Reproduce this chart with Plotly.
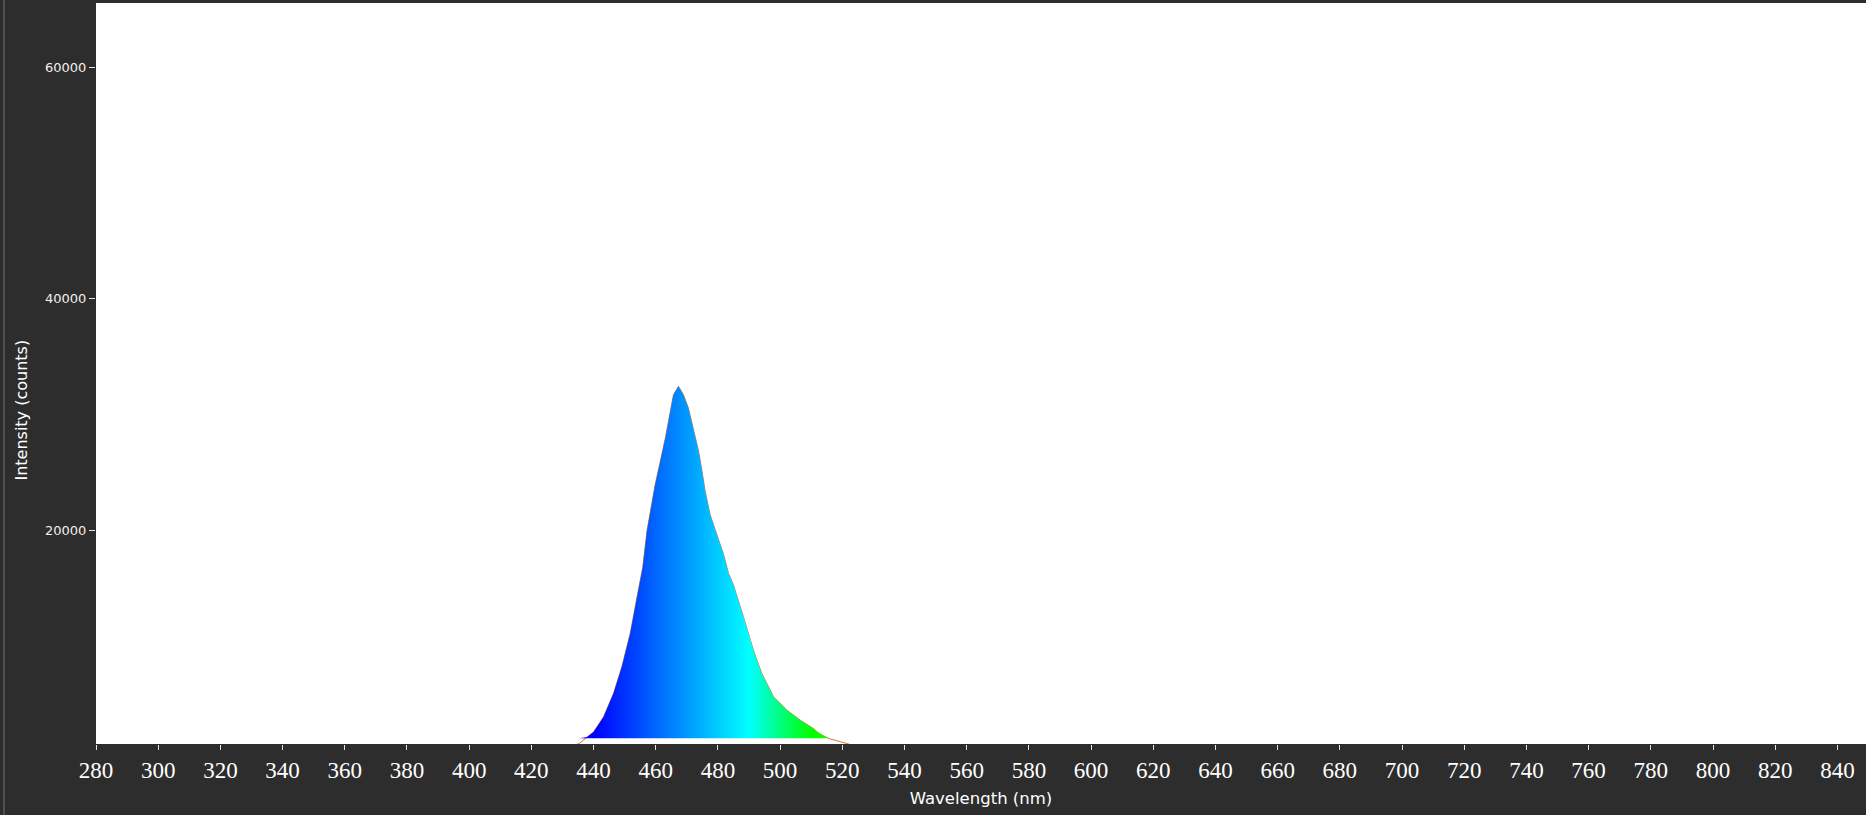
import numpy as np
import plotly.graph_objects as go

# spectrum (nm, counts)
wavelength = [280, 400, 434.0, 435.4, 437.9, 440.0, 443.2, 446.4, 449.1, 451.8, 454.0,
              455.8, 457.2, 458.8, 459.8, 461.4, 463.1, 464.7, 465.7, 467.3, 468.9,
              470.5, 472.2, 473.8, 474.9, 475.9, 477.5, 479.7, 481.8, 483.4, 485.0,
              488.2, 491.4, 494.1, 497.9, 502.2, 506.5, 510.7, 512.5, 515.5, 518.3,
              521.2, 523.0, 600, 849]
intensity = [1500, 1500, 1500, 1620, 2187, 2620, 3917, 5938, 8240, 11128, 14293,
             16800, 20000, 22400, 23952, 25900, 27990, 30290, 31734, 32454, 31734,
             30584, 28561, 26831, 25102, 23372, 21358, 19628, 17950, 16316, 15300,
             12564, 9684, 7669, 5646, 4496, 3631, 2913, 2500, 2070, 1850,
             1600, 1500, 1500, 1500]

fill_floor = 2070          # level the coloured area sits on
y_range = [1580, 65535]
x_range = [280, 849.2]
y_ticks = [20000, 40000, 60000]

# Bruton style wavelength -> colour ramp, 380..780 nm
spectrum_scale = [
    [0.0, "#ff00ff"],
    [0.15, "#0000ff"],
    [0.275, "#00ffff"],
    [0.325, "#00ff00"],
    [0.5, "#ffff00"],
    [0.6625, "#ff0000"],
    [1.0, "#ff0000"],
]

wl = np.array(wavelength)
counts = np.array(intensity)

fig = go.Figure()

# outline goes under the colour so only its ends show
fig.add_trace(go.Scatter(
    x=wl, y=counts, mode="lines",
    line=dict(color="#c87a45", width=1),
    showlegend=False,
))
fig.add_trace(go.Scatter(
    x=wl, y=np.full(len(wl), fill_floor),
    mode="lines", line=dict(width=0), hoverinfo="skip", showlegend=False,
))
fig.add_trace(go.Scatter(
    x=wl, y=np.maximum(counts, fill_floor),
    mode="lines", line=dict(width=0), fill="tonexty",
    fillgradient=dict(type="horizontal", colorscale=spectrum_scale,
                      start=380, stop=780),
    hoverinfo="skip", showlegend=False,
))

fig.update_layout(
    width=1866, height=815,
    paper_bgcolor="#2d2d2d",
    plot_bgcolor="#ffffff",
    margin=dict(l=96, r=0, t=3, b=71),
    showlegend=False,
    xaxis=dict(
        range=x_range, tick0=280, dtick=20,
        showgrid=False, zeroline=False,
        ticks="outside", ticklen=5, tickcolor="#e8e8e8",
        tickfont=dict(family="Liberation Serif", size=23, color="#ffffff"),
        title=dict(text="Wavelength (nm)", standoff=10,
                   font=dict(family="DejaVu Sans", size=16.5, color="#ffffff")),
    ),
    yaxis=dict(
        range=y_range, tickvals=y_ticks, tickformat="d",
        showgrid=False, zeroline=False,
        ticks="outside", ticklen=6, tickcolor="#e8e8e8",
        tickfont=dict(family="DejaVu Sans", size=13, color="#f0f0f0"),
    ),
    annotations=[dict(
        text="Intensity (counts)", textangle=-90,
        xref="paper", yref="paper", x=-0.0418, y=0.45,
        xanchor="center", yanchor="middle", showarrow=False,
        font=dict(family="DejaVu Sans", size=16, color="#ffffff"),
    )],
    shapes=[dict(
        type="line", xref="paper", yref="paper",
        x0=-0.0520, x1=-0.0520, y0=-0.1, y1=1.01,
        line=dict(color="#5c5c5c", width=1.5),
    )],
)

fig.write_html(
    "out.html",
    config={"displayModeBar": False},
    post_script="document.body.style.margin='0';document.body.style.overflow='hidden';",
)
